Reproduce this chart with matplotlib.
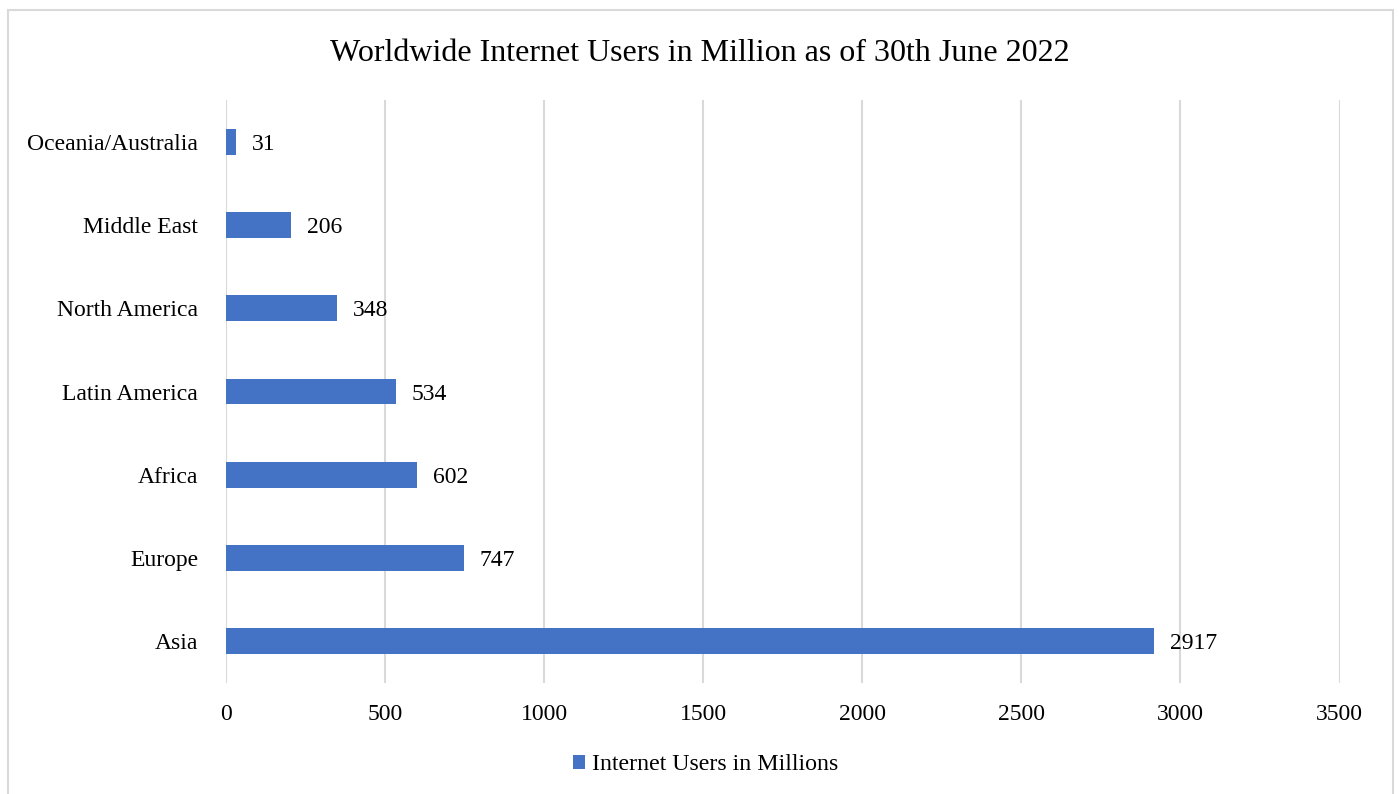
import matplotlib.pyplot as plt
import matplotlib.patches as patches

regions = ["Asia", "Europe", "Africa", "Latin America", "North America",
           "Middle East", "Oceania/Australia"]
users = [2917, 747, 602, 534, 348, 206, 31]
x_ticks = [0, 500, 1000, 1500, 2000, 2500, 3000, 3500]

BAR_COLOR = "#4472C4"
GRID_COLOR = "#d9d9d9"

plt.rcParams["font.family"] = ["Liberation Serif", "DejaVu Serif"]

fig = plt.figure(figsize=(13.99, 7.94), dpi=100)
ax = fig.add_axes([0.1615, 0.1398, 0.9575 - 0.1615, 0.874 - 0.1398])

# outer chart border, bottom edge runs off the canvas
fig.patches.append(patches.Rectangle((8 / 1399, -0.05), (1393 - 8) / 1399, 1 - 10 / 794 + 0.05,
                                     transform=fig.transFigure, fill=False,
                                     edgecolor=GRID_COLOR, linewidth=1.5))

ypos = list(range(len(regions)))
bars = ax.barh(ypos, users, height=0.31, color=BAR_COLOR, zorder=3,
               label="Internet Users in Millions")

for y, v in zip(ypos, users):
    ax.annotate(str(v), (v, y), xytext=(11.5, 0), textcoords="offset points",
                ha="left", va="center_baseline", fontsize=17, zorder=4)

ax.set_xlim(0, 3500)
ax.set_ylim(-0.5, len(regions) - 0.5)
ax.set_xticks(x_ticks)
ax.set_xticklabels([str(t) for t in x_ticks], fontsize=17)
ax.set_yticks(ypos)
ax.set_yticklabels(regions, fontsize=17, va="center_baseline")
ax.tick_params(axis="both", length=0)
ax.tick_params(axis="x", pad=15)
ax.tick_params(axis="y", pad=20)

ax.grid(axis="x", color=GRID_COLOR, linewidth=1.5, zorder=0)
for s in ax.spines.values():
    s.set_visible(False)

fig.text(0.5, 1 - 50 / 794, "Worldwide Internet Users in Million as of 30th June 2022",
         ha="center", va="center_baseline", fontsize=23)

fig.legend(handles=[bars], labels=["Internet Users in Millions"],
           loc="center", bbox_to_anchor=(0.5045, 1 - 765 / 794), frameon=False,
           fontsize=17.2, handlelength=0.5, handleheight=0.5, handletextpad=0.3)

fig.savefig("out.png", dpi=100)
